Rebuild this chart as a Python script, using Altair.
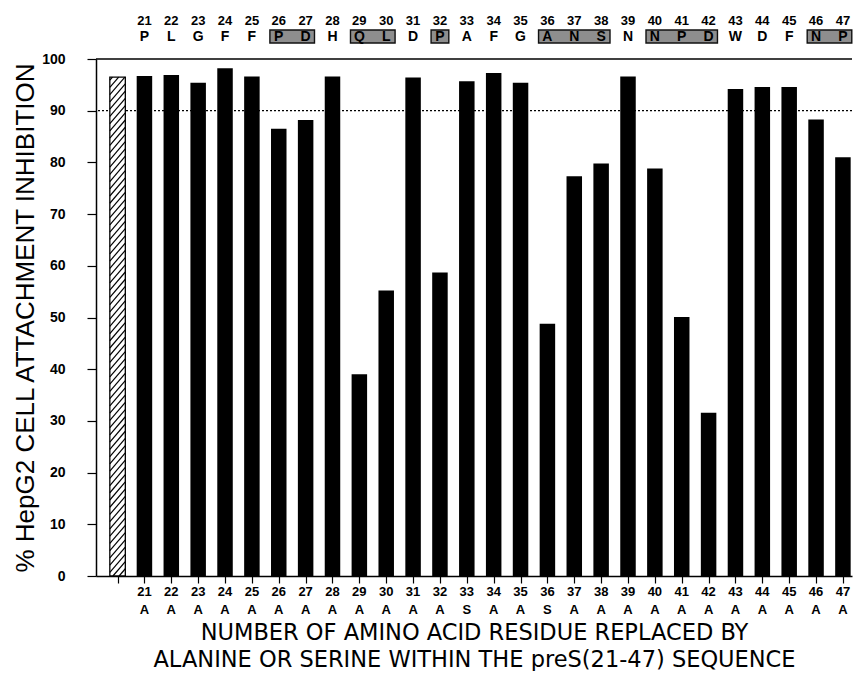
import altair as alt
import pandas as pd

# ---------------- data ----------------
residues = list(range(21, 48))
inhibition = [96.7, 96.9, 95.4, 98.2, 96.6, 86.5, 88.2, 96.6, 39.0, 55.2,
              96.4, 58.7, 95.7, 97.3, 95.4, 48.8, 77.3, 79.8, 96.6, 78.8,
              50.1, 31.6, 94.2, 94.6, 94.6, 88.3, 81.0]
wild_type = list("PLGFFPDHQLDPAFGANSNNPDWDFNP")
replacement = ["A"] * 12 + ["S"] + ["A", "A", "S"] + ["A"] * 11
control_position = 20          # hatched wild-type bar, left of residue 21
control_value = 96.5
boxed_groups = [(26, 27), (29, 30), (32, 32), (36, 38), (40, 42), (46, 47)]
reference_level = 90
y_ticks = list(range(0, 101, 10))

y_title = "% HepG2 CELL ATTACHMENT INHIBITION"
x_title = ["NUMBER OF AMINO ACID RESIDUE REPLACED BY",
           "ALANINE OR SERINE WITHIN THE preS(21-47) SEQUENCE"]

# ---------------- layout / style ----------------
X_DOMAIN = [19.197, 47.338]
PX_PER_UNIT = 26.9
BAR_PX = 15.5
half_w = BAR_PX / 2 / PX_PER_UNIT
FONT = "Liberation Sans"
TITLE_FONT = "DejaVu Sans"

bars_df = pd.DataFrame({"pos": residues, "val": inhibition,
                        "num": [str(r) for r in residues],
                        "wt": wild_type, "rep": replacement})
ctrl_df = pd.DataFrame({"pos": [control_position], "val": [control_value]})
box_df = pd.DataFrame({"x0": [a - 0.33 for a, b in boxed_groups],
                       "x1": [b + 0.33 for a, b in boxed_groups]})

xscale = alt.Scale(domain=X_DOMAIN, nice=False, zero=False, padding=0)
yscale = alt.Scale(domain=[0, 100], nice=False, padding=0)

x_axis = alt.Axis(values=[control_position] + residues, labels=False, tickSize=7,
                  tickColor="black", domainColor="black", tickWidth=1.2, domainWidth=1.5,
                  grid=False, title=x_title, titleFont=TITLE_FONT, titleFontSize=22.5,
                  titleFontWeight="normal", titleColor="black", titlePadding=38,
                  titleLineHeight=26.5)
y_axis = alt.Axis(values=y_ticks, tickSize=9, tickColor="black", domainColor="black",
                  tickWidth=1.2, domainWidth=1.5, grid=False,
                  labelFont=FONT, labelFontSize=14, labelFontWeight="bold",
                  labelColor="black", labelPadding=22,
                  title=y_title, titleFont=FONT, titleFontSize=26,
                  titleFontWeight="normal", titleColor="black", titlePadding=3)


def X(field):
    return alt.X(field, scale=xscale, axis=x_axis)


def Y(field):
    return alt.Y(field, scale=yscale, axis=y_axis)


def below(px):
    return alt.value(alt.ExprRef(expr=f"height + {px}"))


bars = alt.Chart(bars_df).mark_bar(color="black", size=BAR_PX).encode(
    x=X("pos:Q"), y=Y("val:Q"),
)

ctrl = alt.Chart(ctrl_df).mark_bar(color="white", stroke="black", strokeWidth=1.3,
                                    size=BAR_PX).encode(
    x=X("pos:Q"), y=Y("val:Q"),
)

# diagonal hatching of the control bar
rise = 3.5
step = 1.4
xl = control_position - half_w
wdt = 2 * half_w
hatch = alt.Chart(alt.sequence(-rise, control_value, step, as_="t")).transform_calculate(
    ya="max(datum.t, 0)",
    yb=f"min(datum.t + {rise}, {control_value})",
).transform_calculate(
    xa=f"{xl} + (datum.ya - datum.t) / {rise} * {wdt}",
    xb=f"{xl} + (datum.yb - datum.t) / {rise} * {wdt}",
).transform_filter("datum.yb > datum.ya").mark_rule(color="black", strokeWidth=1.2).encode(
    x=X("xa:Q"), x2="xb:Q", y=Y("ya:Q"), y2="yb:Q",
)

ref_line = alt.Chart(pd.DataFrame({"v": [reference_level]})).mark_rule(
    color="black", strokeDash=[2, 2], strokeWidth=1.3).encode(y=Y("v:Q"))

top_line = alt.Chart(pd.DataFrame({"v": [100]})).mark_rule(
    color="black", strokeWidth=1.5).encode(y=Y("v:Q"))

boxes = alt.Chart(box_df).mark_rect(fill="#8e8e8e", stroke="#111", strokeWidth=1.4).encode(
    x=X("x0:Q"), x2="x1:Q", y=alt.value(-29), y2=alt.value(-16),
)

txt = dict(font=FONT, fontWeight="bold", color="black", align="center", baseline="middle")
top_num = alt.Chart(bars_df).mark_text(fontSize=13, **txt).encode(
    x=X("pos:Q"), y=alt.value(-38), text="num:N")
top_wt = alt.Chart(bars_df).mark_text(fontSize=14, **txt).encode(
    x=X("pos:Q"), y=alt.value(-22), text="wt:N")
bot_num = alt.Chart(bars_df).mark_text(fontSize=13, **txt).encode(
    x=X("pos:Q"), y=below(16), text="num:N")
bot_rep = alt.Chart(bars_df).mark_text(fontSize=13, **txt).encode(
    x=X("pos:Q"), y=below(34), text="rep:N")

chart = alt.layer(
    ref_line, bars, ctrl, hatch, top_line, boxes, top_num, top_wt, bot_num, bot_rep
).properties(
    width=845, height=663,
    autosize=alt.AutoSizeParams(type="fit", contains="padding"),
    padding={"left": 4, "top": 7, "right": 0, "bottom": 0},
    background="white",
).configure_view(stroke=None)

chart.save("out.html", embed_options={"renderer": "svg", "actions": False})
